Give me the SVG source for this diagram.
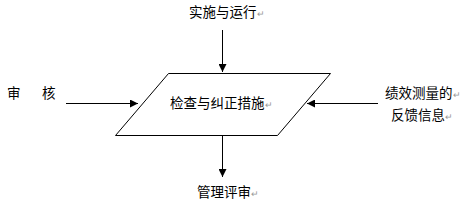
<svg xmlns="http://www.w3.org/2000/svg" width="464" height="209" viewBox="0 0 464 209">
<style>
text{font-family:"Noto Sans CJK SC","Liberation Sans",sans-serif;font-size:13.5px;fill:#000}
.r{fill:#999;font-size:9px}
.ln{stroke:#000;stroke-width:1;fill:none}
</style>
<defs>
<marker id="ah" viewBox="0 0 10 10" refX="10" refY="5" markerWidth="8" markerHeight="8" markerUnits="userSpaceOnUse" orient="auto">
<path d="M0,0 L10,5 L0,10 z" fill="#000"/>
</marker>
</defs>
<rect width="464" height="209" fill="#fff"/>
<g id="top"><text x="189" y="17">实施与运行<tspan class="r">↵</tspan></text></g>
<g id="center">
<polygon class="ln" points="168.5,73.5 330.5,73.5 277.5,135.5 115.5,135.5"/>
<text x="170" y="108">检查与纠正措施<tspan class="r">↵</tspan></text>
</g>
<g id="left"><text x="7" y="98">审</text><text x="42" y="98">核</text></g>
<g id="right">
<text x="385" y="98">绩效测量的<tspan class="r">↵</tspan></text>
<text x="391" y="120">反馈信息<tspan class="r">↵</tspan></text>
</g>
<g id="bottom"><text x="197" y="197">管理评审<tspan class="r">↵</tspan></text></g>
<g id="connectors">
<line class="ln" x1="222.5" y1="30" x2="222.5" y2="72" marker-end="url(#ah)"/>
<line class="ln" x1="66" y1="103.5" x2="138" y2="103.5" marker-end="url(#ah)"/>
<line class="ln" x1="378" y1="103.5" x2="307" y2="103.5" marker-end="url(#ah)"/>
<line class="ln" x1="222.5" y1="136" x2="222.5" y2="177" marker-end="url(#ah)"/>
</g>
</svg>
